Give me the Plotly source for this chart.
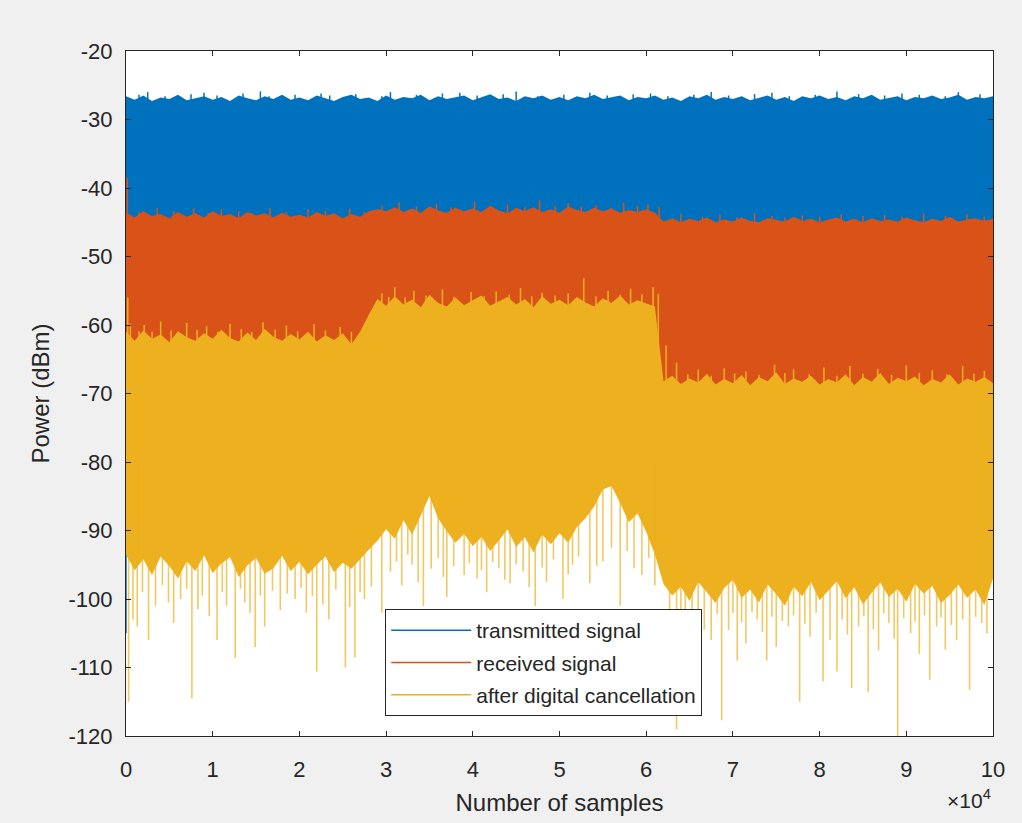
import plotly.graph_objects as go

# ---------------- data ----------------
# envelope sampling positions (samples)
env_x = list(range(0, 100001, 1000))

# transmitted signal: upper edge of the dense band (dBm)
blue_top = [-26.6, -27.1, -26.5, -27.3, -26.8, -27.0, -26.4, -27.2, -26.9, -26.6,
            -27.1, -26.7, -27.3, -26.5, -26.9, -27.2, -26.6, -27.0, -26.4, -27.1,
            -26.8, -27.2, -26.5, -26.9, -27.3, -26.7, -26.4, -27.0, -26.8, -27.3,
            -26.5, -27.1, -26.7, -26.9, -26.4, -27.2, -26.6, -27.0, -26.8, -26.5,
            -27.2, -26.7, -26.3, -27.0, -26.8, -27.3, -26.6, -26.9, -26.5, -27.1,
            -26.7, -27.2, -26.6, -26.9, -26.4, -27.0, -26.8, -26.5, -27.2, -26.7,
            -26.9, -26.5, -27.1, -26.8, -27.3, -26.6, -26.9, -26.4, -27.1, -26.7,
            -27.0, -26.6, -27.2, -26.8, -26.5, -27.1, -26.7, -27.3, -26.6, -26.9,
            -26.5, -27.0, -26.7, -27.2, -26.6, -26.9, -26.4, -27.1, -26.8, -26.6,
            -27.2, -26.7, -26.9, -26.5, -27.0, -26.8, -26.4, -27.1, -26.7, -26.9,
            -26.6]
blue_floor = -48.0

# received signal: upper edge of the dense band (dBm)
orange_top = [-43.6, -44.3, -43.4, -44.1, -43.8, -44.4, -43.5, -44.2, -43.7, -44.3,
              -43.4, -44.1, -43.8, -44.4, -43.5, -44.0, -43.7, -44.3, -43.6, -44.2,
              -43.9, -44.3, -43.5, -44.1, -43.7, -44.4, -43.8, -44.2, -43.4, -43.1,
              -43.4, -42.8, -43.5, -43.0, -43.6, -42.7, -43.3, -43.6, -42.9, -43.4,
              -43.0, -43.5, -42.6, -43.3, -43.7, -42.9, -43.4, -42.8, -43.5, -43.1,
              -43.6, -42.7, -43.2, -43.5, -42.9, -43.4, -43.0, -43.6, -43.2, -43.5,
              -43.1, -43.6, -44.9, -44.4, -45.0, -44.5, -44.8, -44.3, -45.0, -44.6,
              -44.9, -44.3, -44.8, -45.0, -44.4, -44.7, -44.9, -44.2, -44.8, -44.5,
              -45.0, -44.6, -44.3, -44.9, -44.5, -45.0, -44.4, -44.8, -44.6, -44.9,
              -44.3, -44.7, -45.0, -44.5, -44.8, -44.2, -44.9, -44.6, -44.4, -44.8,
              -44.5]
orange_floor = -75.0

# after digital cancellation: upper and lower edges of the dense band (dBm)
yellow_top = [-61.0, -62.3, -60.8, -62.0, -61.4, -62.5, -60.9, -61.8, -62.3, -61.2,
              -62.0, -60.7, -61.9, -62.4, -61.1, -62.2, -60.6, -61.7, -62.3, -61.3,
              -62.1, -61.0, -62.4, -61.5, -62.2, -61.2, -62.8, -61.0, -58.5, -56.2,
              -57.2, -55.8, -57.0, -56.3, -57.4, -55.6, -56.8, -57.3, -56.0, -57.1,
              -56.4, -55.7, -57.2, -56.6, -55.9, -57.0, -56.2, -57.4, -55.8, -56.9,
              -56.3, -57.1, -55.9, -56.7, -57.3, -56.1, -56.8, -55.7, -57.0, -56.4,
              -56.9, -57.3, -68.2, -67.4, -68.6, -67.8, -68.4, -67.1, -68.7, -67.9,
              -68.5, -67.3, -68.8, -67.6, -68.2, -66.9, -68.6, -67.8, -68.3, -67.4,
              -68.7, -67.9, -68.4, -67.2, -68.8, -67.6, -68.3, -67.0, -68.6, -67.7,
              -68.2, -67.5, -68.8, -67.9, -68.4, -67.2, -68.7, -67.8, -68.3, -67.6,
              -68.5]
yellow_bottom = [-93.5, -95.8, -94.2, -96.5, -93.8, -95.2, -97.0, -94.5, -95.9, -93.6,
                 -96.2, -94.8, -93.9, -96.8, -95.1, -94.0, -96.3, -95.5, -93.7, -95.9,
                 -94.6, -96.4, -95.0, -93.8, -96.1, -94.7, -95.6, -94.2, -92.8, -91.5,
                 -89.8, -91.2, -88.5, -90.6, -87.9, -85.0, -88.2, -90.1, -91.8, -90.5,
                 -92.3, -90.9, -93.0, -91.5, -89.8, -92.4, -91.0, -93.2, -90.6, -92.0,
                 -90.4, -91.8, -89.5, -88.2, -86.5, -84.0, -83.5, -86.0, -88.8, -87.5,
                 -90.2, -93.5, -97.8, -99.5, -98.2, -100.3, -97.5, -99.0, -100.6, -98.4,
                 -97.2, -99.8, -98.6, -100.5, -97.9, -99.3, -101.0, -98.2, -99.6, -97.5,
                 -100.2, -98.8, -97.4, -99.9, -98.3, -100.8, -99.1, -97.6, -99.7, -98.5,
                 -100.4, -97.8, -99.2, -98.1, -100.6, -99.4, -97.9, -99.8, -98.6, -100.9,
                 -97.0]

# isolated single-sample peaks (sample index, dBm)
blue_peak_x = [0, 1500, 2500, 4500, 7500, 9000, 10500, 13500, 15500, 16500, 19500, 22500, 23500,
               26500, 29500, 30500, 33500, 36500, 38500, 40500, 43500, 45000, 47500, 50500, 53500,
               55500, 58500, 60500, 62500, 65500, 67500, 69500, 72500, 74500, 76500, 79500, 82000,
               84500, 87500, 89500, 91500, 94500, 96000, 98500]
blue_peak_y = [-105.0, -26.4, -26.0, -26.6, -26.3, -26.1, -26.5, -26.2, -25.9, -26.6, -26.4, -26.2, -26.5,
               -26.3, -26.6, -26.0, -26.4, -26.2, -26.1, -26.5, -26.3, -25.9, -26.6, -26.4, -26.1,
               -26.5, -26.3, -26.2, -26.6, -26.4, -26.0, -26.5, -26.3, -26.1, -26.6, -26.4, -25.9,
               -26.3, -26.5, -26.2, -26.4, -26.6, -26.0, -26.3]

orange_peak_x = [150, 1500, 3600, 5500, 7800, 9500, 11000, 13000, 14500, 16600, 18500, 21000, 23000,
                 25800, 27500, 29500, 31500, 33500, 35800, 37500, 40200, 42000, 44000, 46000, 47700,
                 49500, 51000, 52500, 54200, 56000, 57400, 59000, 60200, 61500, 64000, 66500, 68500,
                 70500, 72500, 74500, 76000, 78000, 80000, 82500, 85000, 87500, 89500, 92000, 94500,
                 97000, 99000]
orange_peak_y = [-38.5, -43.5, -42.9, -43.4, -43.0, -43.6, -43.1, -43.4, -43.6, -42.9, -43.5, -43.1, -43.3,
                 -43.0, -43.5, -42.6, -42.1, -42.7, -42.3, -42.8, -42.0, -42.6, -42.4, -42.8, -41.8,
                 -42.6, -42.2, -42.7, -42.5, -42.9, -42.2, -42.6, -42.4, -42.8, -43.8, -44.2, -43.9,
                 -44.3, -43.7, -44.1, -44.3, -44.0, -44.2, -43.8, -44.1, -43.9, -44.2, -43.7, -44.1,
                 -43.8, -44.2]

yellow_up_x = [200, 500, 1500, 2100, 3000, 4000, 5200, 6000, 7000, 8200, 9300, 10600, 12000, 13300,
               14500, 15800, 17200, 18500, 19800, 21700, 23000, 24700, 26000, 27600,
               29500, 30300, 31000, 32200, 33200, 34600, 36500, 37800, 39800, 41300, 42700, 44200,
               45500, 46800, 48000, 49500, 51000, 52800, 54200, 55600, 57000, 58200, 59500, 60800, 61400,
               62300, 63500, 64800, 66000, 67500, 69000, 70200, 71500, 73000, 74800, 76000, 77000,
               78800, 80500, 82000, 83500, 85000, 86700, 88300, 90000, 91500, 93000, 94700, 96500,
               97800, 99000]
yellow_up_y = [-56.0, -59.8, -60.9, -60.0, -61.0, -59.5, -60.8, -61.1, -59.7, -60.7, -60.2, -61.0, -59.8, -60.6,
               -61.0, -59.6, -60.7, -60.1, -60.9, -59.9, -60.8, -60.3, -61.0, -60.5,
               -55.4, -55.9, -54.5, -56.0, -55.0, -55.7, -54.8, -55.9, -55.2, -55.8, -55.1, -55.6,
               -54.6, -55.8, -55.3, -55.7, -55.4, -53.2, -55.8, -55.0, -55.6, -54.7, -55.5, -54.5, -55.5,
               -63.0, -65.5, -67.2, -66.5, -67.4, -66.3, -67.1, -66.8, -67.3, -65.8, -67.0, -66.5,
               -67.2, -66.2, -67.4, -66.0, -67.1, -66.4, -67.3, -65.9, -67.0, -66.6, -67.2, -66.0,
               -67.1, -66.7]

yellow_dip_x = [300, 800, 1300, 1900, 2600, 3400, 4200, 4900, 5500, 6300, 7000, 7600, 8300, 8800, 9600,
                10500, 11100, 11600, 12600, 13200, 13700, 14300, 14900, 15500, 16000, 16900, 17800,
                18600, 19500, 20200, 20800, 21500, 22000, 22700, 23400, 24200, 25300, 25800, 26400,
                27000, 27500, 28300, 29500, 30500, 31200, 31800, 32500, 33000, 33700, 34300, 35200,
                36000, 36600, 37000, 37800, 39000, 39600, 40500, 41000, 41600, 42300, 43000, 43700,
                44300, 45000, 45800, 46500, 47200, 48000, 48500, 49300, 50400, 51000, 51500, 52200,
                53500, 54300, 55000, 56000, 57000, 57800, 58600, 59500, 60300, 61000, 61700,
                62700, 63500, 64000, 64500, 65300, 66000, 66700, 67500, 68200, 68700, 69500, 70000,
                70500, 71000, 71500, 72200, 72800, 73400, 73900, 74500, 75000, 75700, 76400, 77000,
                77700, 78300, 78900, 79600, 80400, 81200, 82000, 82600, 83200, 83700, 84500, 85100,
                85600, 86200, 86800, 87400, 88000, 88600, 89000, 89700, 90500, 91000, 91500, 92100,
                92700, 93500, 94000, 94500, 95200, 95800, 96500, 97300, 98000, 98700, 99300]
yellow_dip_y = [-115.0, -103.0, -104.0, -99.0, -106.0, -101.0, -98.0, -100.5, -103.5, -100.0, -98.5,
                -114.5, -101.5, -99.5, -102.5,
                -106.0, -99.0, -101.0, -108.6, -98.5, -100.5, -102.0, -107.0, -99.5, -104.0, -98.8, -101.6,
                -99.2, -100.0, -98.4, -102.0, -99.6, -110.6, -100.8, -103.0, -98.6, -110.0, -101.2, -108.5,
                -99.0, -100.0, -98.2, -102.0, -96.0, -94.5, -98.0, -93.5, -95.0, -97.5, -101.0, -95.6,
                -94.0, -96.8, -99.7, -95.2, -96.5, -94.8, -97.0, -95.8, -99.0, -94.6, -95.5, -97.2,
                -97.7, -94.9, -96.0, -98.3, -101.0, -95.4, -97.5, -94.2, -100.0, -96.4, -95.0, -93.8,
                -97.7, -95.2, -94.5, -92.5, -101.0, -93.0, -95.5, -96.5, -94.0, -98.0, -95.0,
                -103.5, -119.0, -102.0, -105.0, -101.8, -103.0, -104.5, -106.0, -102.2, -117.7, -104.5, -102.0,
                -109.0, -103.4, -106.5, -101.9, -103.0, -104.8, -109.0, -102.6, -107.0, -103.2, -104.0, -102.4,
                -115.0, -103.6, -105.5, -102.0, -112.0, -106.0, -110.6, -103.0, -105.2, -113.0, -104.0, -102.5,
                -113.6, -104.4, -107.5, -102.1, -103.5, -105.8, -121.0, -102.8, -105.0, -103.3, -108.0, -102.4,
                -111.8, -104.0, -102.7, -107.4, -103.8, -106.0, -103.0, -113.3, -102.6, -103.5, -105.0]

series_names = ["transmitted signal", "received signal", "after digital cancellation"]
series_colors = ["#0072BD", "#D95319", "#EDB120"]

# tick labels (x axis scaled by 10^4)
x_tick_vals = list(range(0, 100001, 10000))
x_tick_text = ["0", "1", "2", "3", "4", "5", "6", "7", "8", "9", "10"]
y_tick_vals = [-120, -110, -100, -90, -80, -70, -60, -50, -40, -30, -20]
y_tick_text = ["-120", "-110", "-100", "-90", "-80", "-70", "-60", "-50", "-40", "-30", "-20"]

# ---------------- helpers ----------------
def band(xs, top, bottom):
    """closed outline of a dense band: along the top edge, back along the bottom"""
    if not isinstance(bottom, list):
        bottom = [bottom] * len(xs)
    return xs + xs[::-1], top + bottom[::-1]


def sticks(xs, ys, base):
    px, py = [], []
    for xv, yv in zip(xs, ys):
        px += [xv, xv, None]
        py += [base, yv, None]
    return px, py


fig = go.Figure()
font_fam = "Liberation Sans, Arial, Helvetica, sans-serif"

# transmitted
bx, by = band(env_x, blue_top, blue_floor)
fig.add_trace(go.Scatter(x=bx, y=by, fill="toself", fillcolor=series_colors[0], mode="lines",
                         line=dict(width=0, color=series_colors[0]), showlegend=False, hoverinfo="skip"))
sx, sy = sticks(blue_peak_x, blue_peak_y, -34)
fig.add_trace(go.Scatter(x=sx, y=sy, mode="lines", name=series_names[0], legendgroup="a",
                         line=dict(width=1.5, color=series_colors[0]), hoverinfo="skip"))

# received
ox, oy = band(env_x, orange_top, orange_floor)
fig.add_trace(go.Scatter(x=ox, y=oy, fill="toself", fillcolor=series_colors[1], mode="lines",
                         line=dict(width=0, color=series_colors[1]), showlegend=False, hoverinfo="skip"))
sx, sy = sticks(orange_peak_x, orange_peak_y, -50)
fig.add_trace(go.Scatter(x=sx, y=sy, mode="lines", name=series_names[1], legendgroup="b",
                         line=dict(width=1.5, color=series_colors[1]), hoverinfo="skip"))

# after digital cancellation
yx, yy = band(env_x, yellow_top, yellow_bottom)
fig.add_trace(go.Scatter(x=yx, y=yy, fill="toself", fillcolor=series_colors[2], mode="lines",
                         line=dict(width=0, color=series_colors[2]), showlegend=False, hoverinfo="skip"))
sx, sy = sticks(yellow_dip_x, yellow_dip_y, -80)
fig.add_trace(go.Scatter(x=sx, y=sy, mode="lines", showlegend=False, legendgroup="c",
                         line=dict(width=1.6, color="rgba(237,177,32,0.7)"), hoverinfo="skip"))
sx, sy = sticks(yellow_up_x, yellow_up_y, -72)
fig.add_trace(go.Scatter(x=sx, y=sy, mode="lines", name=series_names[2], legendgroup="c",
                         line=dict(width=1.5, color=series_colors[2]), hoverinfo="skip"))

axis_col = "#262626"
fig.update_xaxes(range=[0, 100000], tickvals=x_tick_vals, ticktext=x_tick_text,
                 ticks="inside", ticklen=5, tickcolor=axis_col, showgrid=False, zeroline=False,
                 showline=True, linecolor=axis_col, linewidth=1, mirror="ticks",
                 ticklabelstandoff=14,
                 tickfont=dict(family=font_fam, size=22, color=axis_col),
                 title=dict(text="Number of samples", font=dict(family=font_fam, size=24, color=axis_col),
                            standoff=12))
fig.update_yaxes(range=[-120, -20], tickvals=y_tick_vals, ticktext=y_tick_text,
                 ticks="inside", ticklen=5, tickcolor=axis_col, showgrid=False, zeroline=False,
                 showline=True, linecolor=axis_col, linewidth=1, mirror="ticks",
                 ticklabelstandoff=8,
                 tickfont=dict(family=font_fam, size=22, color=axis_col),
                 title=dict(text="Power (dBm)", font=dict(family=font_fam, size=24, color=axis_col),
                            standoff=12))

fig.add_annotation(xref="paper", yref="paper", x=1.0, y=-0.07, xanchor="right", yanchor="top",
                   text="×10<sup>4</sup>", showarrow=False,
                   font=dict(family=font_fam, size=21, color=axis_col))

fig.update_layout(
    width=1022, height=823,
    margin=dict(l=126, r=29, t=51, b=87),
    paper_bgcolor="#f0f0f0", plot_bgcolor="white",
    font=dict(family=font_fam, color=axis_col),
    legend=dict(x=0.299, y=0.1854, xanchor="left", yanchor="top",
                bgcolor="white", bordercolor="#262626", borderwidth=1,
                font=dict(family=font_fam, size=21, color="#262626"),
                itemwidth=80, tracegroupgap=2, traceorder="grouped"),
    showlegend=True,
)

fig.write_html("out.html", post_script="document.body.style.margin='0';",
               config={"displayModeBar": False})
